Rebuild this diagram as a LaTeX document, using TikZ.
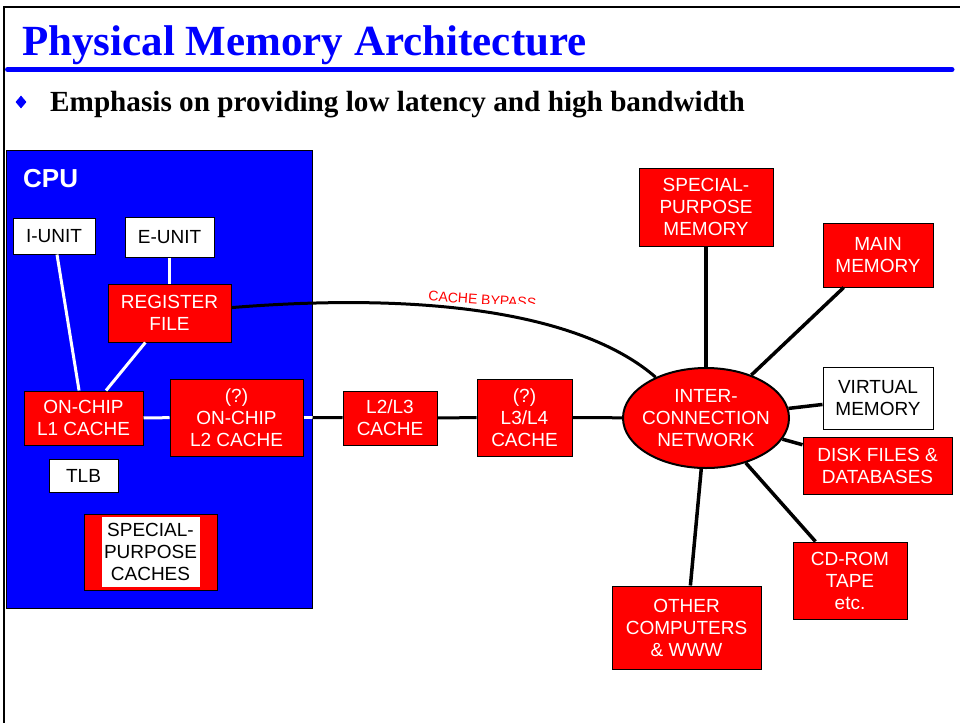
\documentclass[tikz,border=0pt]{standalone}
\usepackage{fontspec}
\setmainfont{Liberation Serif}
\setsansfont{Liberation Sans}
\usetikzlibrary{shapes.geometric}
\definecolor{pblue}{RGB}{0,0,255}
\definecolor{pred}{RGB}{255,0,0}
\tikzset{
  box/.style={draw=black, line width=1pt, inner sep=0pt, align=center,
    font=\sffamily\fontsize{19}{22}\selectfont},
  redbox/.style={box, fill=pred, text=white},
  whitebox/.style={box, fill=white, text=black},
  wire/.style={draw=white, line width=3pt},
  link/.style={draw=black, line width=3.5pt},
}
\begin{document}
\begin{tikzpicture}[x=1pt, y=-1pt]
\useasboundingbox (0,0) rectangle (960,723);
\fill[white] (0,0) rectangle (960,723);
% frame
\draw[line width=2pt] (3,7) -- (960,7);
\draw[line width=2pt] (4.3,6) -- (4.3,723);
\draw[pblue, line width=5pt, line cap=round] (7.5,69.5) -- (952,69.5);
% title and bullet
\node[anchor=base west, inner sep=0pt, text=pblue, font=\bfseries\fontsize{43}{50}\selectfont] (title) at (22,55) {Physical Memory Architecture};
\node[diamond, fill=pblue, inner sep=0pt, minimum width=11pt, minimum height=13pt] (bul) at (21,102) {};
\node[anchor=base west, inner sep=0pt, font=\bfseries\fontsize{29.2}{34}\selectfont] (point) at (50,111) {Emphasis on providing low latency and high bandwidth};
% CPU
\node[draw=black, line width=1pt, fill=pblue, minimum width=306pt, minimum height=458pt, inner sep=0pt] (cpu) at (159,379) {};
\node[anchor=base west, inner sep=0pt, text=white, font=\sffamily\bfseries\fontsize{26}{30}\selectfont] (cpulabel) at (23,187) {CPU};
\node[whitebox, minimum width=82pt, minimum height=36pt] (iunit) at (54,236) {I-UNIT};
\node[whitebox, minimum width=89pt, minimum height=40pt] (eunit) at (169.5,237) {E-UNIT};
\node[redbox, minimum width=123pt, minimum height=58pt] (regfile) at (169.5,313) {REGISTER\\FILE};
\node[redbox, minimum width=119pt, minimum height=54pt] (l1) at (83.5,418) {ON-CHIP\\L1 CACHE};
\node[redbox, minimum width=133pt, minimum height=77pt] (l2) at (236.5,417.5) {(?)\\ON-CHIP\\L2 CACHE};
\node[whitebox, minimum width=69pt, minimum height=33pt] (tlb) at (83.5,475.5) {TLB};
\node[redbox, minimum width=133pt, minimum height=76pt] (spcbox) at (150.5,552) {};
\node[inner sep=0pt, fill=white, text=black, minimum width=98pt, minimum height=70pt, align=center, font=\sffamily\fontsize{19}{22}\selectfont] (spc) at (spcbox.center) {SPECIAL-\\PURPOSE\\CACHES};
% outside caches
\node[redbox, minimum width=94pt, minimum height=54pt] (l23) at (390,418) {L2/L3\\CACHE};
\node[redbox, minimum width=95pt, minimum height=77pt] (l34) at (524.5,417.5) {(?)\\L3/L4\\CACHE};
% network
\node[ellipse, draw=black, line width=2pt, fill=pred, minimum width=166pt, minimum height=100pt, inner sep=0pt] (net) at (706,418) {};
\node[inner sep=0pt, text=white, align=center, font=\sffamily\fontsize{19}{22}\selectfont] (nettext) at (net.center) {INTER-\\CONNECTION\\NETWORK};
\node[redbox, minimum width=134pt, minimum height=78pt] (spm) at (706,207) {SPECIAL-\\PURPOSE\\MEMORY};
\node[redbox, minimum width=110pt, minimum height=64pt] (mainmem) at (878,255) {MAIN\\MEMORY};
\node[whitebox, minimum width=110pt, minimum height=62pt] (vmem) at (878,398) {VIRTUAL\\MEMORY};
\node[redbox, minimum width=149pt, minimum height=57pt] (disk) at (877.5,465.5) {DISK FILES \&\\DATABASES};
\node[redbox, minimum width=114pt, minimum height=77pt] (cdrom) at (850,580.5) {CD-ROM\\TAPE\\etc.};
\node[redbox, minimum width=149pt, minimum height=83pt] (other) at (686.5,627.5) {OTHER\\COMPUTERS\\\& WWW};
% wires inside CPU
\draw[wire] (iunit) -- (l1);
\draw[wire] (eunit) -- (regfile);
\draw[wire] (regfile) -- (l1);
\draw[wire] (l1) -- (l2);
\coordinate (cpuedge) at (cpu.east |- l2.east);
\draw[wire] (l2.east) -- (cpuedge);
% links outside
\draw[link, line width=3pt] (cpuedge) -- (l23);
\draw[link, line width=3pt] (l23) -- (l34);
\draw[link, line width=3pt] (l34) -- (net);
\draw[link] (net) -- (spm);
\draw[link] (net) -- (mainmem);
\draw[link] (net) -- (vmem);
\draw[link] (net) -- (disk);
\draw[link] (net) -- (cdrom);
\draw[link] (net) -- (other);
% cache bypass
\draw[black, line width=3pt] (regfile.5) .. controls (450,290) and (590,320) .. (net.141);
\begin{scope}
\clip (400,280) rectangle (560,303);
\node[rotate=-4, anchor=base, inner sep=0pt, text=pred, font=\sffamily\fontsize{14}{16}\selectfont] (bypass) at (482,304.5) {CACHE BYPASS};
\end{scope}
\end{tikzpicture}
\end{document}
